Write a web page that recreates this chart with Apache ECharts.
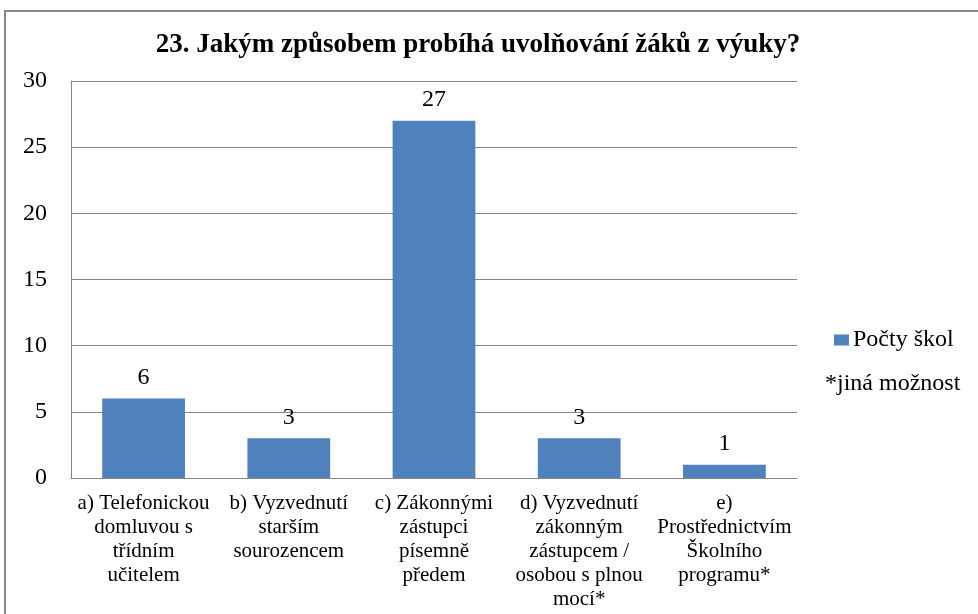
<!DOCTYPE html>
<html>
<head>
<meta charset="utf-8">
<script src="https://cdn.jsdelivr.net/npm/echarts@6/dist/echarts.min.js"></script>
<style>
  html, body { margin: 0; padding: 0; background: #fff; }
  #chart { width: 978px; height: 614px; }
</style>
</head>
<body>
<div id="chart"></div>
<script>
// data
var categories = [
    "a) Telefonickou\ndomluvou s\ntřídním\nučitelem",
    "b) Vyzvednutí\nstarším\nsourozencem",
    "c) Zákonnými\nzástupci\npísemně\npředem",
    "d) Vyzvednutí\nzákonným\nzástupcem /\nosobou s plnou\nmocí*",
    "e)\nProstřednictvím\nŠkolního\nprogramu*"
];
var pocty = [6, 3, 27, 3, 1];
var seriesName = "Počty škol";
var note = "*jiná možnost";

var serif = "'Liberation Serif', 'DejaVu Serif', serif";
var chart = echarts.init(document.getElementById("chart"));

var option = {
    animation: false,
    backgroundColor: "#fff",
    title: {
        text: "23. Jakým způsobem probíhá uvolňování žáků z výuky?",
        left: 473,
        textAlign: "center",
        top: 27,
        textStyle: {
            fontFamily: serif,
            fontSize: 27,
            fontWeight: "bold",
            color: "#000"
        }
    },
    legend: {
        data: [seriesName],
        left: 829,
        top: 323,
        itemWidth: 15,
        itemHeight: 11,
        icon: "rect",
        itemGap: 4,
        textStyle: {fontFamily: serif, fontSize: 24, color: "#000", padding: [0, 0, 0, -1]}
    },
    grid: {
        left: 71,
        right: 181,
        top: 81,
        bottom: 136,
        containLabel: false
    },
    xAxis: {
        type: "category",
        data: categories,
        axisLine: {show: true, lineStyle: {color: "#868686", width: 1}},
        axisTick: {show: false},
        axisLabel: {
            interval: 0,
            margin: 13,
            fontFamily: serif,
            fontSize: 21,
            lineHeight: 24,
            color: "#000",
            align: "center"
        }
    },
    yAxis: {
        type: "value",
        min: 0,
        max: 30,
        interval: 5,
        axisLine: {show: true, lineStyle: {color: "#868686", width: 1}},
        axisTick: {show: false},
        splitLine: {lineStyle: {color: "#868686", width: 1}},
        axisLabel: {
            margin: 24,
            fontFamily: serif,
            fontSize: 24,
            color: "#000"
        }
    },
    series: [{
        name: seriesName,
        type: "bar",
        data: pocty,
        barWidth: "57%",
        itemStyle: {color: "#4F81BD"},
        label: {
            show: true,
            position: "top",
            distance: 9,
            fontFamily: serif,
            fontSize: 24,
            color: "#000"
        }
    }],
    graphic: [
        {
            type: "rect",
            shape: {x: 5, y: 11, width: 1000, height: 700},
            style: {fill: "none", stroke: "#888", lineWidth: 2},
            silent: true
        },
        {
            type: "text",
            left: 825,
            top: 372,
            style: {text: note, fontFamily: serif, fontSize: 24, fill: "#000"}
        }
    ]
};
chart.setOption(option);
</script>
</body>
</html>
